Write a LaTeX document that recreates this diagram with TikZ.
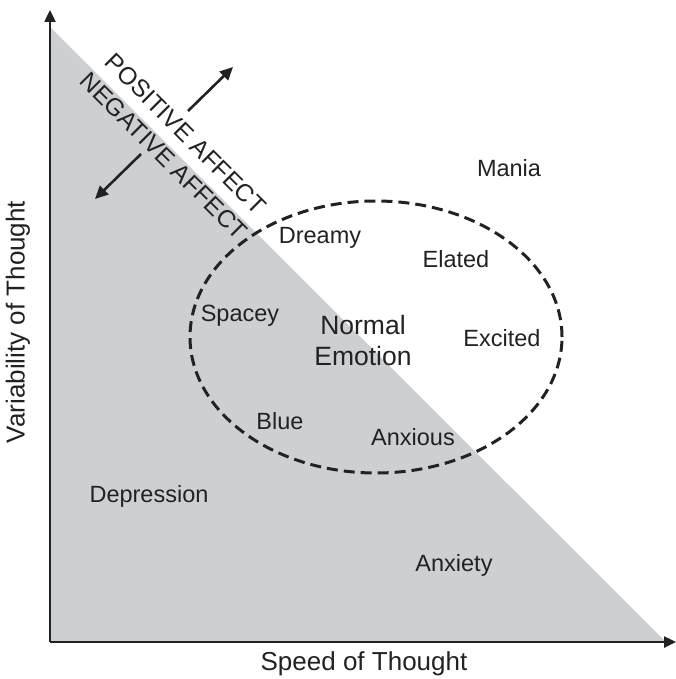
\documentclass[tikz,border=0pt]{standalone}
\usepackage{fontspec}
\setmainfont{Liberation Sans}
\usetikzlibrary{arrows.meta, positioning}
\definecolor{affectgray}{HTML}{CDCFD2}
\definecolor{inkdark}{HTML}{222222}

\begin{document}
\begin{tikzpicture}[x=1pt, y=-1pt, text=inkdark,
    font=\fontsize{23.5}{27}\selectfont,
    axislbl/.style={font=\fontsize{26}{30}\selectfont},
    affectlbl/.style={rotate=-45, inner sep=0pt, font=\fontsize{24.5}{28}\selectfont},
    axisline/.style={line width=2.4pt, draw=inkdark, -{Triangle[length=12pt, width=11pt]}},
    affectarrow/.style={line width=2.6pt, draw=inkdark, -{Triangle[length=13pt, width=12pt]}}]
  \useasboundingbox (0,0) rectangle (676,679);
  \coordinate (origin) at (50,642);
  \coordinate (ytop) at (50,10);
  \coordinate (xend) at (676,642);
  \coordinate (apex) at (50,27);
  \coordinate (corner) at (666,642);
  \fill[affectgray] (origin) -- (apex) -- (corner) -- cycle;
  \coordinate (normal) at (376,337);
  \draw[line width=3pt, dash pattern=on 11pt off 6pt, draw=inkdark] (normal) ellipse [x radius=186pt, y radius=136pt];
  \draw[axisline] (origin) -- (ytop);
  \draw[axisline] (origin) -- (xend);
  \node[axislbl] (speed) at (364,664) {Speed of Thought};
  \node[axislbl, rotate=90] (variability) at (18,322) {Variability of Thought};
  \node[affectlbl] (positive) at (186,134) {POSITIVE AFFECT};
  \node[affectlbl] (negative) at (164,156) {NEGATIVE AFFECT};
  \coordinate (posfrom) at (188,111);
  \coordinate (posto) at (233,67);
  \coordinate (negfrom) at (141,154);
  \coordinate (negto) at (95,199);
  \draw[affectarrow] (posfrom) -- (posto);
  \draw[affectarrow] (negfrom) -- (negto);
  \foreach \x/\y/\lbl in {509/168/Mania, 320/238/Dreamy, 456/259/Elated, 240/316/Spacey,
      502/338/Excited, 280/421/Blue, 413/437/Anxious, 149/496/Depression, 454/565/Anxiety} {
    \node (\lbl) at (\x,\y) {\lbl};
  }
  \node[font=\fontsize{26.5}{31}\selectfont, align=center] (emotion) at (363,341) {Normal\\Emotion};
\end{tikzpicture}
\end{document}
